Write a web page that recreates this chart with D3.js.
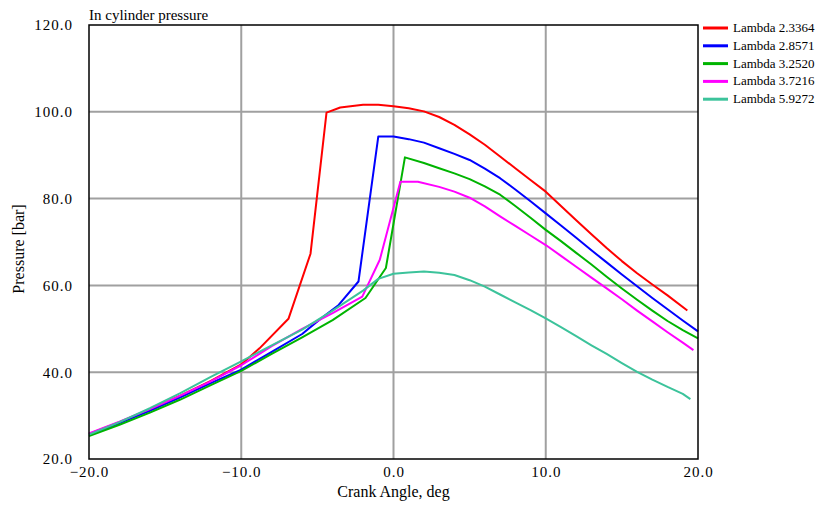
<!DOCTYPE html>
<html lang="en">
<head>
  <meta charset="UTF-8">
  <title>In cylinder pressure</title>
  <script src="https://d3js.org/d3.v7.min.js"></script>
  <style>
    body { margin: 0; background: #fff; }
    svg { display: block; font-family: "Liberation Serif", "Times New Roman", serif; }
    .tick text { fill: #000; }
  </style>
</head>
<body>
  <div id="chart"></div>
  <script>
    // Series names and colours
    const seriesNames = ["Lambda 2.3364", "Lambda 2.8571", "Lambda 3.2520", "Lambda 3.7216", "Lambda 5.9272"];
    const seriesColors = ["#ff0000", "#0000ff", "#00b400", "#ff00ff", "#3cc39b"];

    // Crank angle [deg] / pressure [bar]
    const angleRed = [-20, -18, -16, -14, -12, -10, -8.8, -6.9, -5.45, -4.4, -3.5, -2, -1, 0, 1, 2, 3, 4, 5, 6, 7, 8, 9, 10, 11, 12, 13, 14, 15, 16, 17, 18, 19.3];
    const pressRed = [25.8, 28.5, 31.4, 34.6, 38.0, 41.8, 45.5, 52.3, 67.3, 99.8, 101.0, 101.6, 101.6, 101.3, 100.8, 100.1, 98.8, 97.0, 94.8, 92.4, 89.7, 87.0, 84.3, 81.6, 78.3, 75.0, 71.8, 68.6, 65.6, 62.8, 60.2, 57.7, 54.2];

    const angleBlue = [-20, -18, -16, -14, -12, -10, -8, -6, -4.9, -3.6, -2.3, -1.0, 0, 1, 2, 3, 4, 5, 6, 7, 8, 9, 10, 11, 12, 13, 14, 15, 16, 17, 18, 19, 20];
    const pressBlue = [25.6, 28.3, 31.1, 34.2, 37.5, 40.6, 44.7, 48.8, 52.0, 55.5, 60.9, 94.3, 94.3, 93.7, 92.9, 91.6, 90.3, 88.9, 86.9, 84.7, 82.1, 79.4, 76.6, 73.8, 71.0, 68.1, 65.3, 62.5, 59.8, 57.1, 54.5, 51.9, 49.4];

    const angleGreen = [-20, -18, -16, -14, -12, -10, -8, -6, -4, -1.84, -0.5, 0.75, 2, 3, 4, 5, 6, 7, 8, 9, 10, 11, 12, 13, 14, 15, 16, 17, 18, 19, 20];
    const pressGreen = [25.3, 27.9, 30.7, 33.7, 37.0, 40.3, 44.2, 48.0, 52.0, 57.1, 64.0, 89.5, 88.2, 87.0, 85.8, 84.5, 82.8, 80.9, 78.3, 75.6, 72.8, 70.2, 67.5, 64.8, 62.0, 59.3, 56.7, 54.2, 51.8, 49.7, 47.8];

    const angleMagenta = [-20, -18, -16, -14, -12, -10, -8, -6, -4, -2.05, -0.9, 0.45, 1.6, 3, 4, 5, 6, 7, 8, 9, 10, 11, 12, 13, 14, 15, 16, 17, 18, 19, 19.7];
    const pressMagenta = [25.9, 28.6, 31.5, 34.6, 37.9, 41.6, 46.0, 50.0, 53.6, 57.4, 65.9, 83.9, 83.9, 82.7, 81.6, 80.2, 78.2, 75.9, 73.7, 71.5, 69.3, 66.8, 64.3, 61.8, 59.3, 56.8, 54.2, 51.7, 49.2, 46.8, 45.1];

    const angleTeal = [-20, -18, -16, -14, -12, -10, -8, -6, -4, -2, -1, 0, 1, 2, 3, 4, 5, 6, 7, 8, 9, 10, 11, 12, 13, 14, 15, 16, 17, 18, 19, 19.5];
    const pressTeal = [25.6, 28.5, 31.7, 35.2, 38.9, 42.5, 46.2, 49.8, 54.2, 58.8, 61.5, 62.7, 63.0, 63.2, 62.9, 62.4, 61.2, 59.7, 57.9, 56.1, 54.3, 52.4, 50.4, 48.3, 46.2, 44.2, 42.1, 40.1, 38.3, 36.6, 35.0, 33.8];

    const xTicks = [-20, -10, 0, 10, 20];
    const yTicks = [20, 40, 60, 80, 100, 120];

    const seriesAngles = [angleRed, angleBlue, angleGreen, angleMagenta, angleTeal];
    const seriesPress = [pressRed, pressBlue, pressGreen, pressMagenta, pressTeal];

    const width = 817, height = 505;
    const margin = { top: 25, right: 119, bottom: 46, left: 89 };

    const svg = d3.select("#chart").append("svg")
      .attr("width", width)
      .attr("height", height);

    const x = d3.scaleLinear().domain([-20, 20]).range([margin.left, width - margin.right]);
    const y = d3.scaleLinear().domain([20, 120]).range([height - margin.bottom, margin.top]);

    // grid
    svg.append("g").selectAll("line").data(xTicks.slice(1, -1)).join("line")
      .attr("x1", d => x(d)).attr("x2", d => x(d))
      .attr("y1", margin.top).attr("y2", height - margin.bottom)
      .attr("stroke", "#a0a0a0").attr("stroke-width", 2);
    svg.append("g").selectAll("line").data(yTicks.slice(1, -1)).join("line")
      .attr("x1", margin.left).attr("x2", width - margin.right)
      .attr("y1", d => y(d)).attr("y2", d => y(d))
      .attr("stroke", "#a0a0a0").attr("stroke-width", 2);

    // curves
    const line = d3.line().x(d => x(d[0])).y(d => y(d[1]));
    seriesNames.forEach((name, i) => {
      const pts = seriesAngles[i].map((a, j) => [a, seriesPress[i][j]]);
      svg.append("path")
        .datum(pts)
        .attr("fill", "none")
        .attr("stroke", seriesColors[i])
        .attr("stroke-width", 2)
        .attr("stroke-linejoin", "round")
        .attr("d", line);
    });

    // frame
    svg.append("rect")
      .attr("x", margin.left).attr("y", margin.top)
      .attr("width", width - margin.left - margin.right)
      .attr("height", height - margin.top - margin.bottom)
      .attr("fill", "none").attr("stroke", "#000").attr("stroke-width", 1.5);

    // axes
    const xAxis = svg.append("g")
      .attr("transform", `translate(0,${height - margin.bottom})`)
      .call(d3.axisBottom(x).tickValues(xTicks).tickFormat(d3.format(".1f")).tickSize(0).tickPadding(7));
    const yAxis = svg.append("g")
      .attr("transform", `translate(${margin.left},0)`)
      .call(d3.axisLeft(y).tickValues(yTicks).tickFormat(d3.format(".1f")).tickSize(0).tickPadding(16));
    [xAxis, yAxis].forEach(g => {
      g.select(".domain").remove();
      g.selectAll("text").style("font-family", "Liberation Serif, serif")
        .style("font-size", "15px").style("letter-spacing", "1px");
    });

    // titles
    svg.append("text")
      .attr("x", margin.left).attr("y", 20)
      .style("font-size", "15px")
      .text("In cylinder pressure");
    svg.append("text")
      .attr("x", x(0)).attr("y", 497)
      .attr("text-anchor", "middle")
      .style("font-size", "16px")
      .text("Crank Angle, deg");
    svg.append("text")
      .attr("transform", "translate(24,249) rotate(-90)")
      .attr("text-anchor", "middle")
      .style("font-size", "16px")
      .text("Pressure [bar]");

    // legend
    const legend = svg.append("g").attr("transform", "translate(703,28)");
    seriesNames.forEach((name, i) => {
      const row = legend.append("g").attr("transform", `translate(0,${i * 17.8})`);
      row.append("line").attr("x1", 0).attr("x2", 25)
        .attr("stroke", seriesColors[i]).attr("stroke-width", 3);
      row.append("text").attr("x", 30).attr("y", 4)
        .style("font-size", "13px")
        .text(name);
    });
  </script>
</body>
</html>
